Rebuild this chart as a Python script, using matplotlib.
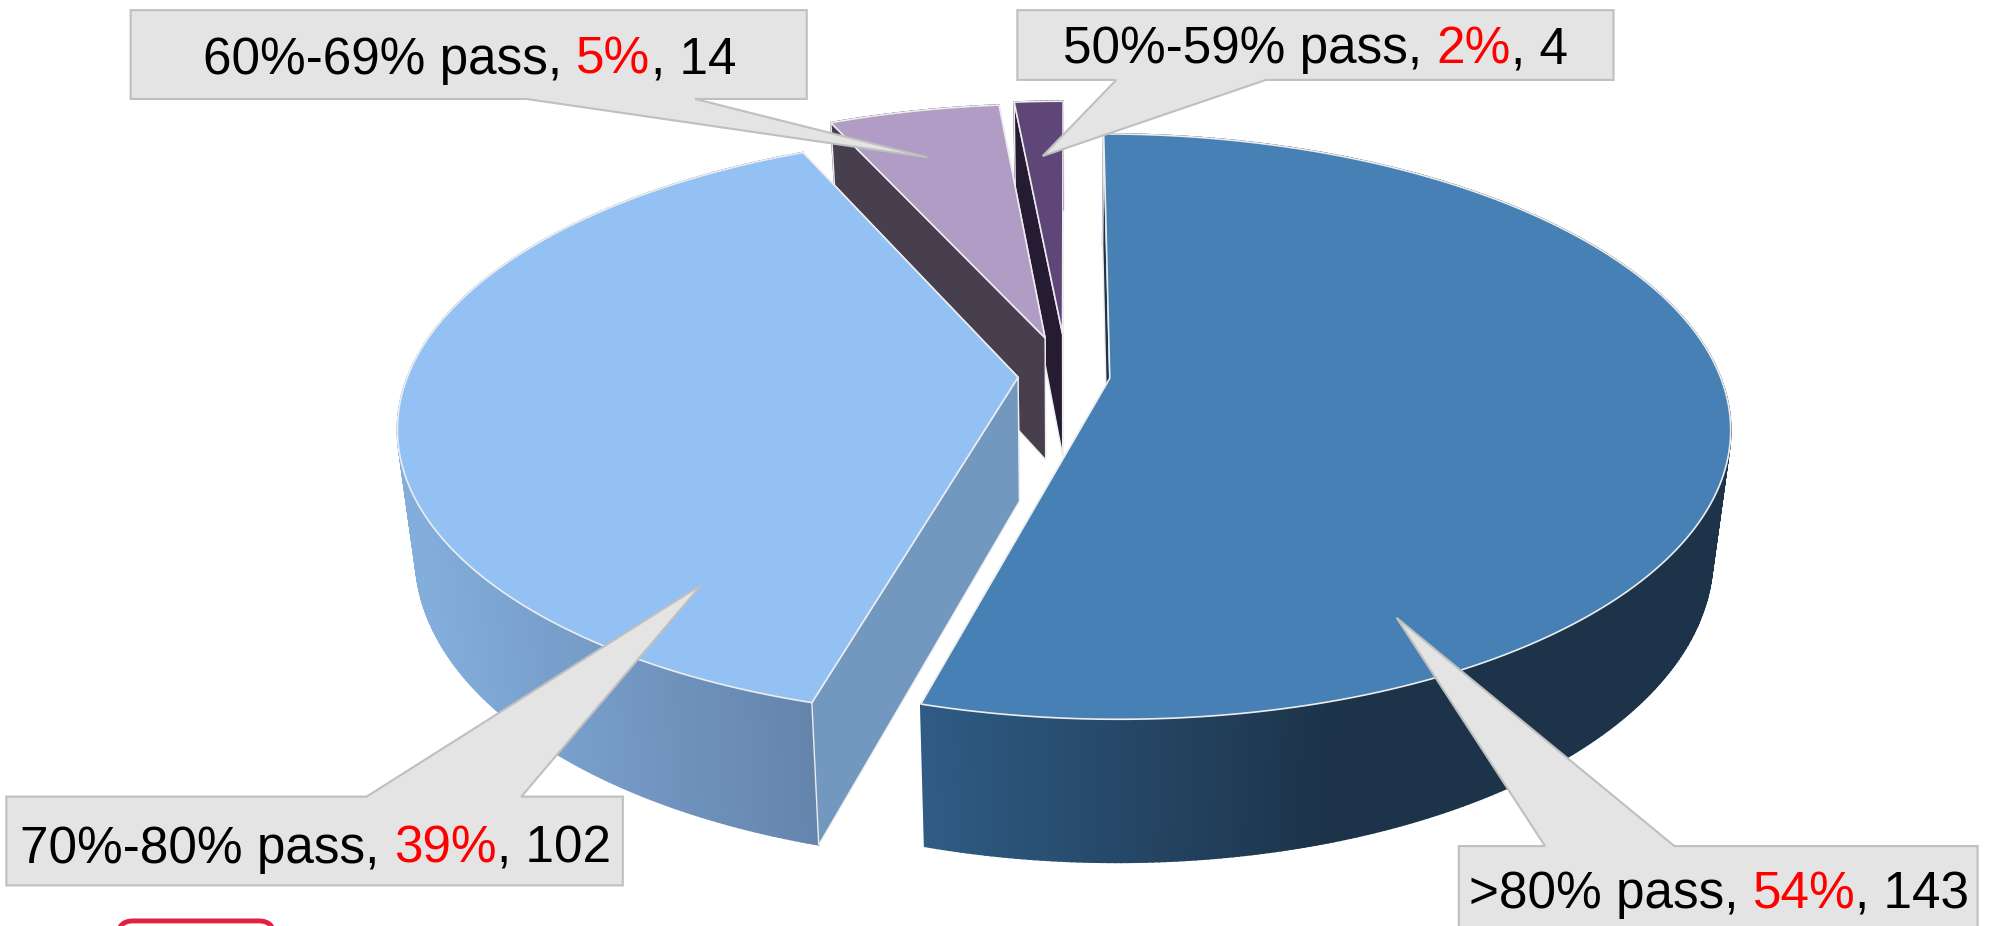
import numpy as np
import matplotlib
matplotlib.use('Agg')
import matplotlib.pyplot as plt
from matplotlib.colors import to_rgb
from matplotlib.patches import FancyBboxPatch, Polygon

# chart data
labels = ['>80% pass', '70%-80% pass', '60%-69% pass', '50%-59% pass']
percents = ['54%', '39%', '5%', '2%']
counts = [143, 102, 14, 4]

# slice styles
explode = [0.071, 0.08, 0.14, 0.15]
top_colors = ['#4680B4', '#93C1F3', '#B09CC4', '#5E4778']
face_colors = ['#1C3349', '#7398C0', '#473F4E', '#251C33']
wall_x = [[730, 1050], [330, 640], [655, 790], [800, 840]]
wall_colors = [['#2F5B84', '#1C3349'], ['#83ADDB', '#6484AC'],
               ['#473F4E', '#473F4E'], ['#251C33', '#251C33']]

# pie geometry, in units of the 1568 wide view
X0, Y0 = 841, 296
A, B, K = 481, 223.7, 0.165
BOTTOM_SCALE = 0.973

# callouts: box (left, top, right, bottom), tail (start x, tip x, tip y, end x), text x, baseline
boxes = [(1150, 667, 1559, 745), (5, 628, 491, 698), (103, 8, 636, 78), (802, 8, 1272, 63)]
tails = [(1218, 1101, 487, 1320), (289, 553, 461, 411), (415, 731, 124, 548), (880, 822, 123, 998)]
text_pos = [(1158, 716), (16, 680), (160, 58), (838, 50)]
FONT_SIZE = 36.9

plt.rcParams['font.family'] = ['Liberation Sans', 'DejaVu Sans']


def project(u, v):
    d = 1 + K * v
    return X0 + A * u / d, Y0 - B * v / d


def lower(x, y):
    # same point on the underside of the pie
    return X0 + (x - X0) * BOTTOM_SCALE, y + 96 + (y - 266) * 16 / 287


def slice_points(start, end, e):
    mid = np.radians((start + end) / 2)
    ou, ov = e * np.sin(mid), e * np.cos(mid)
    th = np.radians(np.linspace(start, end, max(int(end - start) * 2, 6)))
    ax_, ay_ = project(ou, ov)
    xs, ys = project(ou + np.sin(th), ov + np.cos(th))
    return (ax_, ay_), xs, ys


def wall_color(x, i):
    c0, c1 = [np.array(to_rgb(c)) for c in wall_colors[i]]
    t = np.clip((x - wall_x[i][0]) / (wall_x[i][1] - wall_x[i][0]), 0, 1)
    return tuple(c0 + (c1 - c0) * t)


fig = plt.figure(figsize=(19.89, 9.26), dpi=100)
ax = fig.add_axes([0, 0, 1, 1])
ax.set_xlim(0, 1568)
ax.set_ylim(730, 0)
ax.axis('off')

edges = np.concatenate([[0], np.cumsum(counts) / sum(counts) * 360])
EDGE = '#EDEDED'

# back slices first so the nearer ones cover them
for i in [3, 2, 1, 0]:
    apex, xs, ys = slice_points(edges[i], edges[i + 1], explode[i])
    bx, by = lower(xs, ys)
    abx, aby = lower(*apex)

    ax.add_patch(Polygon([apex, (xs[-1], ys[-1]), (bx[-1], by[-1]), (abx, aby)],
                         fc=face_colors[i], ec=EDGE, lw=1))
    for j in range(len(xs) - 1):
        col = wall_color((xs[j] + xs[j + 1]) / 2, i)
        ax.add_patch(Polygon([(xs[j], ys[j]), (xs[j + 1], ys[j + 1]),
                              (bx[j + 1], by[j + 1]), (bx[j], by[j])],
                             fc=col, ec=col, lw=1.2))
    ax.add_patch(Polygon([apex, (xs[0], ys[0]), (bx[0], by[0]), (abx, aby)],
                         fc=face_colors[i], ec=EDGE, lw=1))
    ax.add_patch(Polygon(np.vstack([[apex], np.column_stack([xs, ys])]),
                         fc=top_colors[i], ec=EDGE, lw=1.2))

# callouts
renderer = fig.canvas.get_renderer()


def text_width(s):
    t = ax.text(0, 0, s, fontsize=FONT_SIZE)
    w = t.get_window_extent(renderer).width
    t.remove()
    return w * 1568 / 1989


for i in range(len(labels)):
    l, t, r, b = boxes[i]
    s0, tx, ty, s1 = tails[i]
    if ty < t:
        pts = [(l, t), (s0, t), (tx, ty), (s1, t), (r, t), (r, b), (l, b)]
    else:
        pts = [(l, t), (r, t), (r, b), (s1, b), (tx, ty), (s0, b), (l, b)]
    ax.add_patch(Polygon(pts, fc='#E4E4E4', ec='#BFBFBF', lw=1.5, zorder=5, clip_on=True))

    x, y = text_pos[i]
    before = labels[i] + ', '
    after = ', ' + str(counts[i])
    red_end = before + percents[i]
    ax.text(x, y, before, fontsize=FONT_SIZE, color='black', zorder=6)
    ax.text(x + text_width(red_end) - text_width(percents[i]), y, percents[i],
            fontsize=FONT_SIZE, color='#FF0000', zorder=6)
    ax.text(x + text_width(red_end + after) - text_width(after), y, after,
            fontsize=FONT_SIZE, color='black', zorder=6)

# red rounded box cut off by the bottom edge
ax.add_patch(FancyBboxPatch((93, 726), 123, 40, boxstyle='round,pad=0,rounding_size=12',
                            fc='white', ec='#E2203F', lw=3.5, zorder=2))

fig.savefig('out.png', dpi=100)
